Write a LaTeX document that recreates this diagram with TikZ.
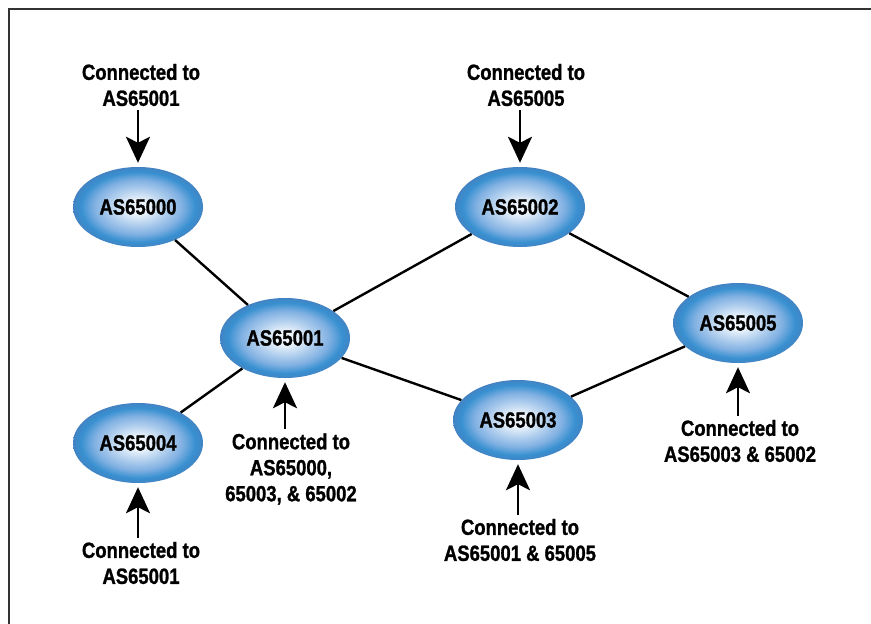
\documentclass[tikz,border=0pt]{standalone}
\usepackage{fontspec}
\setmainfont{Liberation Sans}[FakeStretch=0.84,FakeBold=1.2]
\usetikzlibrary{shapes.geometric,arrows.meta}
\definecolor{asrim}{RGB}{74,120,184}
\definecolor{asblue}{RGB}{56,144,208}
\definecolor{asmid}{RGB}{128,176,226}
\definecolor{ascore}{RGB}{238,245,252}
\pgfdeclareradialshading{asglow}{\pgfpoint{0bp}{0bp}}{color(0bp)=(ascore); color(4bp)=(ascore); color(11bp)=(asmid!55!ascore); color(17bp)=(asmid); color(22bp)=(asblue); color(24.5bp)=(asblue!60!asrim); color(26bp)=(asrim); color(50bp)=(asrim)}
\begin{document}
\begin{tikzpicture}[x=1pt,y=-1pt,
    every node/.style = {font=\bfseries\fontsize{22}{26}\selectfont},
    asnode/.style = {ellipse, shading=asglow, minimum width=130pt,
      minimum height=80pt, inner sep=0pt},
    conn/.style = {align=center, inner sep=4pt},
    link/.style = {line width=2.4pt},
    arr/.style = {line width=2.6pt, shorten >=4pt,
      -{Stealth[length=26pt,width=24pt,inset=6pt]}}]
  \useasboundingbox (0,0) rectangle (871,624);
  \draw[black!80, line width=2pt] (9,624) -- (9,9) -- (871,9);

  \node[asnode] (as0) at (138,207) {AS65000};
  \node[asnode] (as1) at (285,338) {AS65001};
  \node[asnode] (as2) at (520,207) {AS65002};
  \node[asnode] (as3) at (518,420) {AS65003};
  \node[asnode] (as4) at (138,443) {AS65004};
  \node[asnode] (as5) at (738,323) {AS65005};

  \node[conn] (c0) at (141,85) {Connected to\\AS65001};
  \node[conn] (c2) at (526,85) {Connected to\\AS65005};
  \node[conn] (c1) at (291,469) {Connected to\\AS65000,\\65003, \& 65002};
  \node[conn] (c4) at (141,563) {Connected to\\AS65001};
  \node[conn] (c3) at (520,540) {Connected to\\AS65001 \& 65005};
  \node[conn] (c5) at (740,441) {Connected to\\AS65003 \& 65002};

  \draw[link] (as0) -- (as1);
  \draw[link] (as4) -- (as1);
  \draw[link] (as1) -- (as2);
  \draw[link] (as1) -- (as3);
  \draw[link] (as2) -- (as5);
  \draw[link] (as3) -- (as5);

  \draw[arr] (c0.south -| as0) -- (as0);
  \draw[arr] (c2.south -| as2) -- (as2);
  \draw[arr] (c1.north -| as1) -- (as1);
  \draw[arr] (c4.north -| as4) -- (as4);
  \draw[arr] (c3.north -| as3) -- (as3);
  \draw[arr] (c5.north -| as5) -- (as5);
\end{tikzpicture}
\end{document}
